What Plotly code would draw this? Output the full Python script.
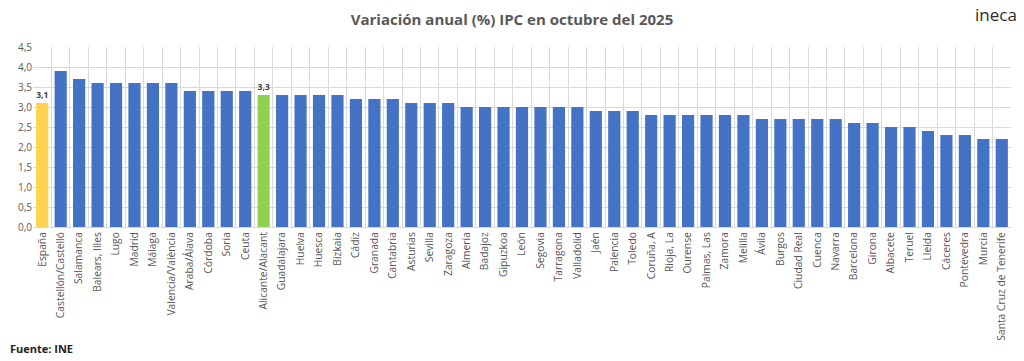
import plotly.graph_objects as go

categories = ["España", "Castellón/Castelló", "Salamanca", "Balears, Illes", "Lugo", "Madrid", "Málaga",
              "Valencia/València", "Araba/Álava", "Córdoba", "Soria", "Ceuta", "Alicante/Alacant",
              "Guadalajara", "Huelva", "Huesca", "Bizkaia", "Cádiz", "Granada", "Cantabria", "Asturias",
              "Sevilla", "Zaragoza", "Almería", "Badajoz", "Gipuzkoa", "León", "Segovia", "Tarragona",
              "Valladolid", "Jaén", "Palencia", "Toledo", "Coruña, A", "Rioja, La", "Ourense", "Palmas, Las",
              "Zamora", "Melilla", "Ávila", "Burgos", "Ciudad Real", "Cuenca", "Navarra", "Barcelona",
              "Girona", "Albacete", "Teruel", "Lleida", "Cáceres", "Pontevedra", "Murcia",
              "Santa Cruz de Tenerife"]
values = [3.1, 3.9, 3.7, 3.6, 3.6, 3.6, 3.6, 3.6, 3.4, 3.4, 3.4, 3.4, 3.3, 3.3, 3.3, 3.3, 3.3,
          3.2, 3.2, 3.2, 3.1, 3.1, 3.1, 3.0, 3.0, 3.0, 3.0, 3.0, 3.0, 3.0, 2.9, 2.9, 2.9,
          2.8, 2.8, 2.8, 2.8, 2.8, 2.8, 2.7, 2.7, 2.7, 2.7, 2.7, 2.6, 2.6, 2.5, 2.5, 2.4,
          2.3, 2.3, 2.2, 2.2]
labelled = ["España", "Alicante/Alacant"]
y_ticks = [0, 0.5, 1.0, 1.5, 2.0, 2.5, 3.0, 3.5, 4.0, 4.5]

BLUE = "#4472C4"
YELLOW = "#FFD34E"
GREEN = "#92D050"

colors = []
for c in categories:
    if c == "España":
        colors.append(YELLOW)
    elif c == "Alicante/Alacant":
        colors.append(GREEN)
    else:
        colors.append(BLUE)

texts = [f"{v:.1f}".replace(".", ",") if c in labelled else "" for c, v in zip(categories, values)]

fig = go.Figure(go.Bar(
    x=categories, y=values, marker_color=colors, marker_line_width=0,
    text=texts, textposition="outside", cliponaxis=False,
    textfont=dict(family="Open Sans", size=11, color="#404040", weight="bold"),
))

fig.update_layout(
    width=1024, height=361,
    margin=dict(l=33, r=13, t=47, b=134),
    paper_bgcolor="white", plot_bgcolor="white",
    bargap=0.34,
    separators=",.",
    showlegend=False,
    title=dict(text="<b>Variación anual (%) IPC en octubre del 2025</b>", x=0.5, xanchor="center",
               y=0.945, yanchor="middle",
               font=dict(family="Open Sans", size=15, color="#595959")),
    font=dict(family="Open Sans", color="#595959"),
)
fig.update_xaxes(
    type="category", tickangle=-90, tickson="boundaries", showgrid=True, gridcolor="#D9D9D9",
    gridwidth=1, showline=True, linecolor="#D9D9D9", ticks="", tickfont=dict(size=10.3, color="#595959"),
    mirror=False,
)
fig.update_yaxes(
    range=[0, 4.5], tickvals=y_ticks, tickformat=".1f", showgrid=True, gridcolor="#D9D9D9",
    gridwidth=1, zeroline=False, showline=False, ticks="", tickfont=dict(size=10, color="#595959"),
)
fig.add_annotation(text="<b>Fuente: INE</b>", xref="paper", yref="paper", x=(8 - 33) / 978, y=-131 / 180,
                   xanchor="left", yanchor="bottom", showarrow=False,
                   font=dict(family="Open Sans", size=11, color="#222222"))
fig.add_annotation(text="ineca", xref="paper", yref="paper", x=1.008, y=1 + 33 / 180,
                   xanchor="right", yanchor="middle", showarrow=False,
                   font=dict(family="Open Sans", size=17, color="#2b2b2b"))

fig.write_html("out.html", config={"displayModeBar": False},
               post_script="document.body.style.margin='0';")
